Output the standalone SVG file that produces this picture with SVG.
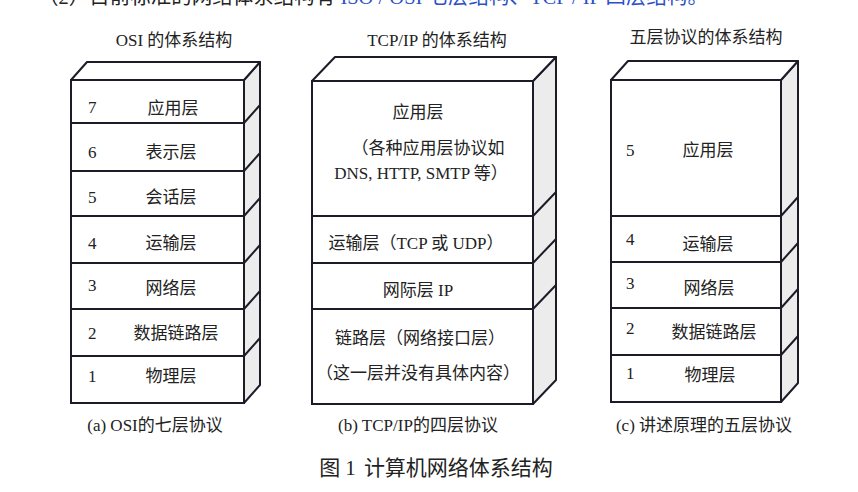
<svg xmlns="http://www.w3.org/2000/svg" width="858" height="492" viewBox="0 0 858 492">
<style>
text{font-family:"Liberation Serif","Noto Sans CJK SC",serif;fill:#222;}
.t{font-size:17px;}
.m{text-anchor:middle;}
.hd{font-size:17px;text-anchor:middle;}
.cap{font-size:17px;text-anchor:middle;}
.ttl{font-size:21px;text-anchor:middle;}
.top{font-size:20.5px;}
.blue{fill:#2c50c8;}
.front{fill:#fff;stroke:#1c1c28;stroke-width:2;}
.side{fill:#ececec;stroke:#1c1c28;stroke-width:2;stroke-linejoin:round;}
.lid{fill:#fff;stroke:#1c1c28;stroke-width:2;stroke-linejoin:round;}
.edge{stroke:#1c1c28;stroke-width:2;fill:none;}
</style>
<rect width="858" height="492" fill="#fff"/>
<text class="top" x="38" y="4">（2）目前标准的网络体系结构有 <tspan class="blue">ISO / OSI 七层结构、TCP / IP 四层结构。</tspan></text>

<text class="hd" x="174" y="46">OSI 的体系结构</text>
<text class="hd" x="437" y="46">TCP/IP 的体系结构</text>
<text class="hd" x="706" y="43">五层协议的体系结构</text>

<!-- OSI stack -->
<g id="osi-frame">
<polygon class="side" points="244,80 260,62 260,385 244,403"/>
<polygon class="lid" points="71,80 87,62 260,62 244,80"/>
</g>
<g id="osi-7"><rect class="front" x="71" y="80" width="173" height="43"/><text class="t" x="88" y="113">7</text><text class="t m" x="173" y="114">应用层</text></g>
<g id="osi-6"><rect class="front" x="71" y="123" width="173" height="48"/><text class="t" x="88" y="158">6</text><text class="t m" x="171" y="158">表示层</text></g>
<g id="osi-5"><rect class="front" x="71" y="171" width="173" height="45"/><text class="t" x="88" y="203">5</text><text class="t m" x="171" y="203">会话层</text></g>
<g id="osi-4"><rect class="front" x="71" y="216" width="173" height="47"/><text class="t" x="88" y="249">4</text><text class="t m" x="171" y="249">运输层</text></g>
<g id="osi-3"><rect class="front" x="71" y="263" width="173" height="46"/><text class="t" x="88" y="291">3</text><text class="t m" x="171" y="294">网络层</text></g>
<g id="osi-2"><rect class="front" x="71" y="309" width="173" height="47"/><text class="t" x="88" y="339">2</text><text class="t m" x="176" y="339">数据链路层</text></g>
<g id="osi-1"><rect class="front" x="71" y="356" width="173" height="47"/><text class="t" x="88" y="382">1</text><text class="t m" x="171" y="382">物理层</text></g>
<g id="osi-edges">
<path class="edge" d="M244,123 L260,105 M244,171 L260,153 M244,216 L260,198 M244,263 L260,245 M244,309 L260,291 M244,356 L260,338"/>
</g>

<!-- TCP/IP stack -->
<g id="tcp-frame">
<polygon class="side" points="533,81 556,57 556,380 533,404"/>
<polygon class="lid" points="312,81 335,57 556,57 533,81"/>
</g>
<g id="tcp-app"><rect class="front" x="312" y="81" width="221" height="135"/>
<text class="t m" x="418" y="118">应用层</text>
<text class="t m" x="428" y="154">（各种应用层协议如</text>
<text class="t m" x="421" y="179">DNS, HTTP, SMTP 等）</text></g>
<g id="tcp-transport"><rect class="front" x="312" y="216" width="221" height="47"/><text class="t m" x="416" y="249">运输层（TCP 或 UDP）</text></g>
<g id="tcp-internet"><rect class="front" x="312" y="263" width="221" height="46"/><text class="t m" x="418" y="296">网际层 IP</text></g>
<g id="tcp-link"><rect class="front" x="312" y="309" width="221" height="95"/>
<text class="t m" x="420" y="344">链路层（网络接口层）</text>
<text class="t m" x="418" y="379">（这一层并没有具体内容）</text></g>
<g id="tcp-edges">
<path class="edge" d="M533,216 L556,192 M533,263 L556,239 M533,309 L556,285"/>
</g>

<!-- Five-layer stack -->
<g id="five-frame">
<polygon class="side" points="781,80 798,61 798,383 781,402"/>
<polygon class="lid" points="611,80 628,61 798,61 781,80"/>
</g>
<g id="five-5"><rect class="front" x="611" y="80" width="170" height="136"/><text class="t" x="626" y="156">5</text><text class="t m" x="708" y="156">应用层</text></g>
<g id="five-4"><rect class="front" x="611" y="216" width="170" height="46"/><text class="t" x="626" y="245">4</text><text class="t m" x="708" y="250">运输层</text></g>
<g id="five-3"><rect class="front" x="611" y="262" width="170" height="46"/><text class="t" x="626" y="289">3</text><text class="t m" x="709" y="294">网络层</text></g>
<g id="five-2"><rect class="front" x="611" y="308" width="170" height="47"/><text class="t" x="626" y="334">2</text><text class="t m" x="714" y="338">数据链路层</text></g>
<g id="five-1"><rect class="front" x="611" y="355" width="170" height="47"/><text class="t" x="626" y="379">1</text><text class="t m" x="710" y="381">物理层</text></g>
<g id="five-edges">
<path class="edge" d="M781,216 L798,197 M781,262 L798,243 M781,308 L798,289 M781,355 L798,336"/>
</g>

<text class="cap" x="155" y="431">(a) OSI的七层协议</text>
<text class="cap" x="418" y="431">(b) TCP/IP的四层协议</text>
<text class="cap" x="704" y="431">(c) 讲述原理的五层协议</text>
<text class="ttl" x="436" y="475">图 1<tspan dx="8">计算机网络体系结构</tspan></text>
</svg>
